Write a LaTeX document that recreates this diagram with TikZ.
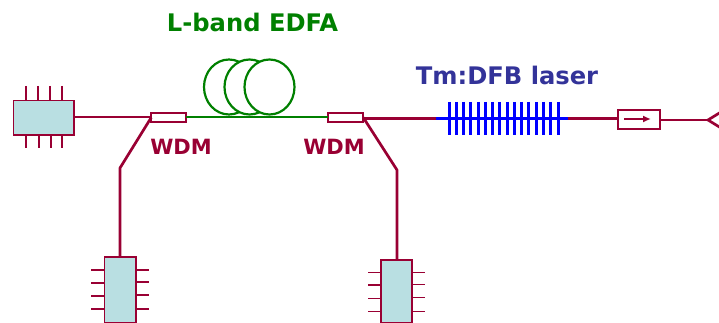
\documentclass[tikz,border=0pt]{standalone}
\usepackage{fontspec}
\setmainfont{DejaVu Sans}
\usetikzlibrary{shapes.geometric,arrows.meta}
\definecolor{maroon}{HTML}{990033}
\definecolor{boxfill}{HTML}{B9DFE2}
\definecolor{coil}{HTML}{008000}
\definecolor{navy}{HTML}{333399}
\definecolor{grating}{HTML}{0000FF}
\tikzset{
  fibre/.style={draw=maroon,line width=2.7pt},
  pin/.style={draw=maroon,line width=1.5pt},
  module/.style={draw=maroon,fill=boxfill,line width=1.7pt,inner sep=0pt,outer sep=0pt},
  coupler/.style={draw=maroon,fill=white,line width=2.3pt,inner sep=0pt,outer sep=0pt,minimum width=35pt,minimum height=9pt},
  coilloop/.style={draw=coil,fill=white,line width=2.2pt,ellipse,inner sep=0pt,minimum width=50pt,minimum height=55pt},
  gratingbar/.style={draw=grating,line width=3pt},
  wdmlabel/.style={font=\bfseries\fontsize{21}{24}\selectfont,inner sep=0pt,text=maroon},
  titlelabel/.style={font=\bfseries\fontsize{24.2}{28}\selectfont,inner sep=0pt}
}
\begin{document}
\begin{tikzpicture}[x=1pt,y=-1pt]
\useasboundingbox (0,0) rectangle (719,323);
\clip (0,0) rectangle (719,323);
% coils
\node[coilloop] (c1) at (229,87) {};
\node[coilloop] (c2) at (249.5,87) {};
\node[coilloop] (c3) at (269.5,87) {};
% modules and couplers
\node[module,minimum width=60.5pt,minimum height=34.5pt] (pumpA) at (43.75,117.75) {};
\node[coupler] (wdmA) at (168.75,117.5) {};
\node[coupler] (wdmB) at (345.75,117.5) {};
\node[module,minimum width=31.5pt,minimum height=65.5pt] (pumpB) at (120.25,289.75) {};
\node[module,minimum width=31pt,minimum height=62.5pt] (pumpC) at (396.5,291.25) {};
\node[draw=maroon,fill=white,line width=2.3pt,inner sep=0pt,outer sep=0pt,minimum width=42pt,minimum height=18.5pt] (iso) at (638.75,119.5) {};
% fibres
\coordinate (kneeA) at (120,168);
\coordinate (kneeB) at (397,170);
\coordinate (gratingL) at (436,118.5);
\coordinate (gratingR) at (568,118.5);
\coordinate (tip) at (708,120);
\coordinate (tipU) at (721,112);
\coordinate (tipD) at (721,128);
\draw[fibre] (pumpA.east |- 0,117) -- (wdmA.west |- 0,117);
\draw[fibre,line join=round] (wdmA.west) -- (kneeA) -- (pumpB.north -| kneeA);
\draw[draw=coil,line width=2.7pt] (wdmA.east |- 0,117) -- (wdmB.west |- 0,117);
\draw[fibre,line join=round] (wdmB.east) -- (kneeB) -- (pumpC.north -| kneeB);
\draw[fibre] (wdmB.east |- gratingL) -- (gratingL);
\draw[fibre] (gratingR) -- (iso.west |- gratingR);
\draw[fibre] (iso.east |- tip) -- (tip);
\draw[fibre,line join=miter] (tipU) -- (tip) -- (tipD);
% grating
\draw[draw=grating,line width=2.7pt] (gratingL) -- (gratingR);
\foreach \i in {0,...,15}{
  \draw[gratingbar] ({449+7.27*\i},102) -- ({449+7.27*\i},135);
}
% isolator arrow
\coordinate (arrL) at (624,119);
\coordinate (arrR) at (651,119);
\draw[maroon,line width=1.7pt,-{Latex[length=8pt,width=7pt]}] (arrL) -- (arrR);
% pins
\foreach \x in {26,38,50,62}{\draw[pin] (\x,86) -- (\x,100.5);}
\foreach \x in {26,39,51,62}{\draw[pin] (\x,135) -- (\x,148);}
\foreach \y in {270,283,296,309}{\draw[pin] (91,\y) -- (104.5,\y);}
\foreach \y in {270,282,295,309}{\draw[pin] (136,\y) -- (149,\y);}
\foreach \y in {272.5,285,298.5,311.5}{\draw[pin] (368,\y) -- (381,\y);}
\foreach \y in {272.5,284.5,297.5,311.5}{\draw[pin] (412,\y) -- (425,\y);}
% labels
\node[wdmlabel] (capA) at (181,147) {WDM};
\node[wdmlabel] (capB) at (334,147) {WDM};
\node[titlelabel,text=coil] (edfa) at (252.5,22.5) {L-band EDFA};
\node[titlelabel,text=navy] (dfb) at (507,75.5) {Tm:DFB laser};
\end{tikzpicture}
\end{document}
